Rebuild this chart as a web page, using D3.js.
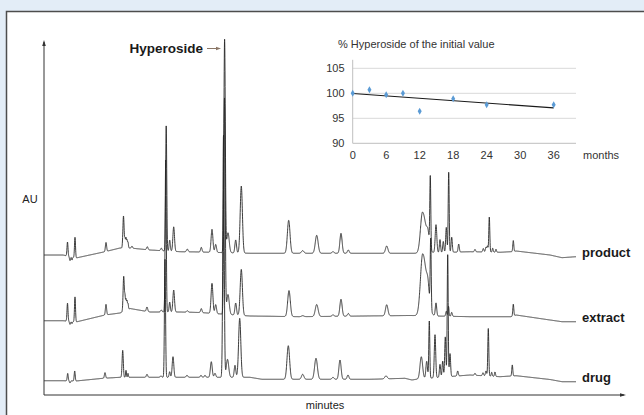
<!DOCTYPE html>
<html><head><meta charset="utf-8">
<script src="https://cdn.jsdelivr.net/npm/d3@7"></script>
<style>
html,body{margin:0;padding:0;background:#e3edf7;}
svg{display:block;}
text{font-family:"Liberation Sans",Arial,Helvetica,sans-serif;}
</style></head><body>
<svg id="c" width="644" height="415"></svg>
<script>
// ---------------- DATA ----------------
const traceNames = ["product", "extract", "drug"];

// baseline anchor points [minutes, AU]
const productBaseline = [[0,140],[1.9,140],[3.2,137],[6.1,143.3],[7.6,147],[8.6,147],[10.6,145],[13.6,143.3],[15.6,143],[20.6,141.7],[37.1,141.7],[42.6,143.3],[45.6,142.7],[47.0,143.5],[47.2,144],[50.6,140],[51.8,137.3],[53.2,138.3]];
const extractBaseline = [[0,74.3],[1.9,74.3],[3.2,73],[6.1,80],[7.6,82],[8.6,86.5],[10.6,83],[13.6,83],[15.6,82.5],[20.6,79],[25.6,78.3],[36.6,79.5],[42.6,78.3],[46.7,78.3],[47.2,80],[50.6,75],[51.8,73.3],[53.2,73.3]];
const drugBaseline = [[0,14.3],[1.9,14.3],[3.2,14],[5.9,16.7],[7.6,17.7],[20.6,17.7],[21.8,15.7],[32.6,15.7],[36.1,16.7],[36.8,15],[37.4,16],[42.6,20],[45.6,18.3],[47.2,19.3],[50.6,15.5],[51.8,13.3],[53.2,13.3]];

// peak tables [retention time (min), height (AU), width left (min), width right (min, optional)]
const productPeaks = [[2.35,14,0.05],[2.6,-4,0.05],[2.8,-3,0.04],[3.1,20.5,0.05],[6.2,9,0.06],[7.95,32,0.06],[8.1,9,0.04],[8.2,10,0.04],[8.3,8,0.04],[8.4,6,0.04],[8.8,2,0.06],[10.33,3,0.07],[11.73,2.5,0.07],[12.22,125,0.055],[12.57,11,0.06],[12.97,24.5,0.08],[14.33,2.7,0.08],[15.73,4.7,0.07],[16.8,23,0.09],[17.17,8,0.08],[18.06,213,0.07],[18.4,20,0.12],[19.17,13,0.08],[19.73,67,0.11],[24.47,33,0.13],[25.87,2.7,0.12],[27.27,18,0.14],[28.9,1.7,0.1],[29.7,20,0.11],[30.43,3.3,0.09],[34.27,7.3,0.12],[37.85,41,0.2,0.35],[38.4,12,0.12],[38.63,72,0.05],[39.2,28,0.08],[39.6,13,0.06],[39.93,11,0.06],[40.23,25,0.06],[40.47,80,0.05],[40.77,15,0.06],[41.47,8,0.06],[43.1,2.4,0.06],[43.93,3.5,0.06],[44.2,5,0.06],[44.35,6,0.05],[44.53,35,0.05],[44.87,4,0.05],[45.2,3,0.05],[46.93,11,0.05]];
const extractPeaks = [[2.35,18,0.05],[2.6,-3,0.05],[2.8,-2,0.04],[3.1,25,0.05],[6.2,10.5,0.06],[7.97,35,0.06],[8.1,13,0.04],[8.2,11,0.04],[8.3,9,0.04],[8.4,6,0.04],[10.3,4.5,0.07],[11.73,2,0.07],[12.17,152,0.055],[12.57,10,0.06],[12.97,22,0.08],[14.33,1.5,0.08],[15.73,4,0.07],[16.8,30,0.09],[17.17,9,0.08],[18.05,216,0.07],[18.4,20,0.12],[19.17,12,0.08],[19.73,46,0.11],[24.5,26,0.13],[25.87,1,0.12],[27.27,12,0.14],[28.9,1.5,0.1],[29.7,17,0.11],[30.43,2.7,0.09],[34.27,11,0.12],[37.87,62,0.22,0.38],[38.4,14,0.12],[38.67,70,0.05],[39.2,13,0.07],[40.23,5,0.06],[40.45,10,0.05],[40.77,4,0.06],[46.93,11.7,0.05]];
const drugPeaks = [[2.37,7.4,0.05],[2.6,-2,0.05],[3.07,10,0.05],[6.1,5.6,0.06],[7.87,27,0.06],[8.2,7,0.04],[8.4,4,0.04],[10.3,3,0.07],[11.7,1.5,0.07],[12.1,118,0.055],[12.57,5.6,0.06],[12.9,20.6,0.08],[14.3,2,0.08],[15.7,2,0.07],[16.1,2,0.07],[16.73,15.6,0.09],[17.1,4,0.08],[17.95,242,0.07],[18.35,18,0.12],[19.1,12,0.08],[19.57,59,0.11],[24.43,33.6,0.13],[25.87,5,0.12],[27.2,21,0.14],[28.9,2,0.1],[29.6,19.3,0.11],[30.4,4.3,0.09],[34.2,3,0.12],[37.73,22,0.13],[38.27,17,0.08],[38.53,57,0.05],[39.1,43,0.07],[39.6,13,0.06],[39.87,16,0.06],[40.13,40,0.06],[40.37,122,0.05],[40.6,23,0.06],[41.37,5,0.06],[43.1,2,0.06],[43.9,3,0.06],[44.2,5,0.06],[44.43,47.5,0.05],[44.77,4,0.05],[45.1,4.5,0.05],[46.83,11,0.05]];

// inset: stability of hyperoside
const stabilityMonths = [0, 3, 6, 9, 12, 18, 24, 36];
const stabilityValues = [100, 100.7, 99.7, 100, 96.4, 98.9, 97.7, 97.7];
const insetXTicks = [0, 6, 12, 18, 24, 30, 36];
const insetYTicks = [90, 95, 100, 105];
const insetGridValues = [95, 100, 105];

// ---------------- DRAW ----------------
const svg = d3.select("#c");

// panel
svg.append("rect").attr("x", 6.5).attr("y", 11.5).attr("width", 700).attr("height", 500)
  .attr("fill", "#fff").attr("stroke", "#4d4d4d").attr("stroke-width", 1.5);

const x = d3.scaleLinear().domain([0, 58.2]).range([44, 626]);
const y = d3.scaleLinear().domain([0, 355]).range([395, 40]);

const traces = [
  {name: traceNames[0], base: productBaseline, peaks: productPeaks},
  {name: traceNames[1], base: extractBaseline, peaks: extractPeaks},
  {name: traceNames[2], base: drugBaseline, peaks: drugPeaks}
];

const line = d3.line().x(d => x(d[0])).y(d => y(d[1]));

traces.forEach(tr => {
  const bl = d3.scaleLinear().domain(tr.base.map(d => d[0])).range(tr.base.map(d => d[1]));
  const tEnd = tr.base[tr.base.length - 1][0];
  let ts = d3.range(0, tEnd + 1e-9, 0.01);
  tr.peaks.forEach(p => ts.push(p[0]));
  ts.sort((a, b) => a - b);
  const pts = ts.map(t => {
    let v = bl(t);
    for (const p of tr.peaks) {
      const s = (t < p[0] || p[3] === undefined) ? p[2] : p[3];
      const d = (t - p[0]) / s;
      if (Math.abs(d) < 8) v += p[1] * Math.exp(-0.5 * d * d);
    }
    return [t, v];
  });
  svg.append("path").attr("d", line(pts)).attr("fill", "none")
    .attr("stroke", "#262626").attr("stroke-width", 0.9).attr("stroke-linejoin", "round");
  const last = tr.base[tr.base.length - 1];
  svg.append("text").attr("x", x(last[0]) + 6).attr("y", y(last[1]) + 0.5)
    .attr("font-size", 13).attr("font-weight", "bold").attr("fill", "#1a1a1a").text(tr.name);
});

// main axes
const axCol = "#333";
const x0 = x(0), y0 = y(0), yTop = y(355), xEnd = x(58.2);
svg.append("line").attr("x1", x0).attr("y1", y0).attr("x2", x0).attr("y2", yTop + 2).attr("stroke", axCol).attr("stroke-width", 1);
svg.append("line").attr("x1", x0).attr("y1", y0).attr("x2", xEnd - 2).attr("y2", y0).attr("stroke", axCol).attr("stroke-width", 1);
svg.append("path").attr("d", `M${x0},${yTop} L${x0 - 1.8},${yTop + 6} L${x0 + 1.8},${yTop + 6} Z`).attr("fill", axCol);
svg.append("path").attr("d", `M${xEnd},${y0} L${xEnd - 6},${y0 - 1.8} L${xEnd - 6},${y0 + 1.8} Z`).attr("fill", axCol);

svg.append("text").attr("x", 30).attr("y", 203).attr("text-anchor", "middle").attr("font-size", 11).attr("fill", "#222").text("AU");
svg.append("text").attr("x", 325).attr("y", 409).attr("text-anchor", "middle").attr("font-size", 11).attr("fill", "#222").text("minutes");

// Hyperoside label + arrow
svg.append("text").attr("x", 203).attr("y", 53).attr("text-anchor", "end").attr("font-size", 13.5)
  .attr("font-weight", "bold").attr("fill", "#1a1a1a").text("Hyperoside");
svg.append("line").attr("x1", 207).attr("y1", 48.5).attr("x2", 218).attr("y2", 48.5).attr("stroke", "#8a7666").attr("stroke-width", 1);
svg.append("path").attr("d", "M221,48.5 L216,46.8 L216,50.2 Z").attr("fill", "#8a7666");

// ---------------- INSET ----------------
const ix = d3.scaleLinear().domain([0, 40]).range([352.7, 576]);
const iy = d3.scaleLinear().domain([90, 105]).range([143.3, 68.3]);
const g = svg.append("g");

insetGridValues.forEach(v => {
  g.append("line").attr("x1", ix(0)).attr("x2", ix(40)).attr("y1", iy(v)).attr("y2", iy(v))
    .attr("stroke", "#d9d9d9").attr("stroke-width", 1);
});
g.append("line").attr("x1", ix(0)).attr("x2", ix(40)).attr("y1", iy(90)).attr("y2", iy(90)).attr("stroke", "#bfbfbf").attr("stroke-width", 1);
g.append("line").attr("x1", ix(0)).attr("x2", ix(0)).attr("y1", iy(90)).attr("y2", iy(106.7)).attr("stroke", "#bfbfbf").attr("stroke-width", 1);

insetYTicks.forEach(v => {
  g.append("text").attr("x", 344.5).attr("y", iy(v) + 4).attr("text-anchor", "end").attr("font-size", 11).attr("fill", "#333").text(v);
});
insetXTicks.forEach(v => {
  g.append("text").attr("x", ix(v)).attr("y", 159).attr("text-anchor", "middle").attr("font-size", 11).attr("fill", "#333").text(v);
});
g.append("text").attr("x", 583).attr("y", 159).attr("font-size", 11).attr("fill", "#333").text("months");
g.append("text").attr("x", 338).attr("y", 48).attr("font-size", 11).attr("fill", "#333").text("% Hyperoside of the initial value");

// linear trend (least squares from data)
const mx = d3.mean(stabilityMonths), my = d3.mean(stabilityValues);
let sxy = 0, sxx = 0;
stabilityMonths.forEach((m, i) => { sxy += (m - mx) * (stabilityValues[i] - my); sxx += (m - mx) * (m - mx); });
const slope = sxy / sxx, icpt = my - slope * mx;
const mMax = d3.max(stabilityMonths);
g.append("line").attr("x1", ix(0)).attr("y1", iy(icpt)).attr("x2", ix(mMax)).attr("y2", iy(icpt + slope * mMax))
  .attr("stroke", "#1a1a1a").attr("stroke-width", 1.1);

const sym = d3.symbol().type(d3.symbolDiamond).size(14);
stabilityMonths.forEach((m, i) => {
  g.append("path").attr("d", sym()).attr("transform", `translate(${ix(m)},${iy(stabilityValues[i])})`).attr("fill", "#5b9bd5");
});
</script>
</body></html>
